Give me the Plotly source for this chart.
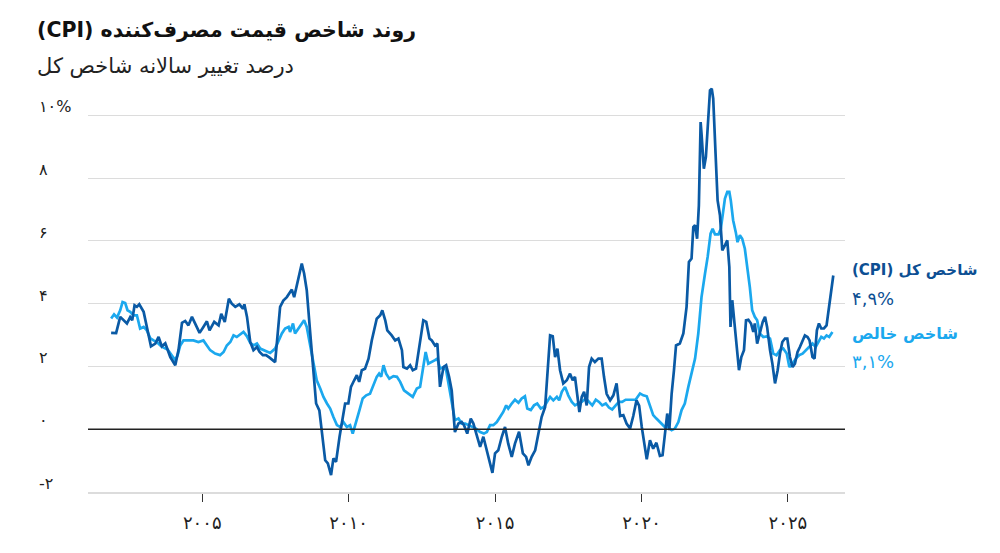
import plotly.graph_objects as go

# Annual % change, headline CPI (dark) and core (light)
cpi_year = [2001.89, 2002.06, 2002.20, 2002.31, 2002.43, 2002.54, 2002.61, 2002.69, 2002.77, 2002.85,
            2002.92, 2003.00, 2003.11, 2003.25, 2003.40, 2003.51, 2003.62, 2003.74, 2003.91, 2004.08,
            2004.19, 2004.31, 2004.42, 2004.53, 2004.65, 2004.76, 2004.91, 2005.04, 2005.16, 2005.25,
            2005.41, 2005.56, 2005.65, 2005.77, 2005.91, 2006.01, 2006.13, 2006.27, 2006.39, 2006.44,
            2006.53, 2006.64, 2006.75, 2006.87, 2006.96, 2007.07, 2007.18, 2007.30, 2007.41, 2007.49,
            2007.66, 2007.77, 2007.89, 2008.06, 2008.14, 2008.29, 2008.40, 2008.48, 2008.57, 2008.69,
            2008.80, 2008.89, 2009.00, 2009.09, 2009.20, 2009.29, 2009.40, 2009.48, 2009.57, 2009.69,
            2009.80, 2009.88, 2009.99, 2010.08, 2010.19, 2010.28, 2010.36, 2010.45, 2010.56, 2010.68,
            2010.79, 2010.96, 2011.08, 2011.15, 2011.25, 2011.32, 2011.47, 2011.59, 2011.70, 2011.82,
            2011.87, 2011.99, 2012.10, 2012.19, 2012.30, 2012.42, 2012.55, 2012.65, 2012.76, 2012.84,
            2012.95, 2013.03, 2013.12, 2013.24, 2013.33, 2013.43, 2013.52, 2013.63, 2013.75, 2013.86,
            2013.94, 2014.05, 2014.17, 2014.26, 2014.38, 2014.49, 2014.60, 2014.72, 2014.83, 2014.91,
            2015.00, 2015.11, 2015.23, 2015.34, 2015.45, 2015.57, 2015.68, 2015.82, 2015.95, 2016.06,
            2016.14, 2016.25, 2016.37, 2016.48, 2016.59, 2016.71, 2016.82, 2016.88, 2016.97, 2017.05,
            2017.13, 2017.22, 2017.33, 2017.45, 2017.56, 2017.65, 2017.73, 2017.79, 2017.88, 2017.96,
            2018.04, 2018.13, 2018.21, 2018.30, 2018.41, 2018.53, 2018.64, 2018.72, 2018.81, 2018.93,
            2019.04, 2019.15, 2019.27, 2019.38, 2019.49, 2019.61, 2019.72, 2019.83, 2019.92, 2020.01,
            2020.09, 2020.18, 2020.29, 2020.40, 2020.51, 2020.63, 2020.72, 2020.80, 2020.88, 2020.95,
            2021.03, 2021.11, 2021.18, 2021.31, 2021.43, 2021.54, 2021.62, 2021.71, 2021.77, 2021.83,
            2021.90, 2021.96, 2022.02, 2022.05, 2022.13, 2022.20, 2022.28, 2022.34, 2022.40, 2022.45,
            2022.53, 2022.60, 2022.68, 2022.76, 2022.85, 2022.93, 2023.00, 2023.04, 2023.10, 2023.16,
            2023.25, 2023.33, 2023.41, 2023.50, 2023.57, 2023.65, 2023.74, 2023.82, 2023.87, 2023.95,
            2024.04, 2024.14, 2024.22, 2024.29, 2024.39, 2024.47, 2024.56, 2024.65, 2024.73, 2024.81,
            2024.90, 2024.98, 2025.07, 2025.16, 2025.24, 2025.33, 2025.41, 2025.50, 2025.58, 2025.67,
            2025.74, 2025.84, 2025.91, 2025.99, 2026.06, 2026.14, 2026.23, 2026.32, 2026.41, 2026.47,
            2026.55]
cpi_val = [3.07, 3.06, 3.58, 3.47, 3.37, 3.57, 3.47, 3.95, 3.90, 3.98,
           3.85, 3.74, 3.26, 2.64, 2.73, 2.94, 2.64, 2.74, 2.30, 2.04,
           2.52, 3.39, 3.45, 3.31, 3.58, 3.37, 3.07, 3.26, 3.44, 3.15,
           3.42, 3.31, 3.68, 3.42, 4.16, 4.00, 3.90, 3.98, 3.84, 3.98,
           3.58, 2.78, 2.52, 2.62, 2.46, 2.36, 2.36, 2.28, 2.20, 2.14,
           3.90, 4.10, 4.21, 4.45, 4.21, 4.85, 5.28, 4.96, 4.43, 3.05,
           1.77, 0.82, 0.60, -0.14, -0.99, -1.09, -1.46, -0.93, -1.04, -0.24,
           0.39, 0.82, 0.82, 1.35, 1.56, 1.72, 1.51, 1.88, 1.93, 2.25,
           2.83, 3.52, 3.63, 3.79, 3.47, 3.15, 2.99, 2.83, 2.89, 2.52,
           1.98, 1.93, 2.04, 1.88, 1.93, 2.62, 3.47, 3.42, 2.89, 2.83,
           2.67, 2.73, 1.35, 1.98, 2.04, 1.67, 1.24, -0.09, 0.18, 0.23,
           0.13, -0.14, 0.34, 0.18, -0.25, -0.56, -0.24, -0.67, -1.09, -1.39,
           -0.77, -0.67, -0.24, 0.07, -0.46, -0.88, -0.46, -0.08, -0.77, -0.88,
           -1.15, -0.88, -0.67, -0.14, 0.39, 0.71, 2.20, 2.99, 2.96, 2.30,
           2.57, 1.88, 1.46, 1.56, 1.77, 1.56, 1.67, 1.13, 0.55, 1.03,
           1.19, 0.76, 1.98, 2.25, 2.14, 2.25, 2.25, 1.67, 1.13, 0.92,
           1.08, 1.46, 0.42, 0.45, 0.18, 0.02, 0.42, 0.92, 0.75, 0.07,
           -0.50, -0.96, -0.35, -0.62, -0.43, -0.85, -0.83, -0.14, 0.50, -0.03,
           1.13, 1.88, 2.67, 2.73, 3.05, 3.90, 5.33, 5.44, 6.44, 6.50,
           6.07, 7.13, 9.79, 9.42, 8.30, 8.68, 10.10, 10.80, 10.85, 10.53,
           8.78, 7.29, 6.82, 5.70, 5.86, 6.02, 5.17, 3.26, 4.11, 3.47,
           2.62, 1.88, 2.30, 2.52, 3.47, 3.49, 3.37, 3.10, 3.37, 2.73,
           3.05, 3.42, 3.58, 3.26, 2.52, 2.09, 1.46, 1.88, 2.41, 2.78,
           2.89, 2.89, 2.30, 1.98, 2.09, 2.46, 2.62, 2.83, 2.99, 2.94,
           2.83, 2.30, 2.25, 3.15, 3.37, 3.21, 3.21, 3.31, 3.90, 4.43,
           4.90]

core_year = [2001.89, 2001.99, 2002.09, 2002.20, 2002.28, 2002.37, 2002.45, 2002.54, 2002.66, 2002.77,
             2002.88, 2003.00, 2003.11, 2003.23, 2003.34, 2003.45, 2003.57, 2003.68, 2003.82, 2003.97,
             2004.08, 2004.16, 2004.25, 2004.36, 2004.53, 2004.70, 2004.87, 2005.04, 2005.16, 2005.27,
             2005.44, 2005.61, 2005.73, 2005.84, 2005.96, 2006.07, 2006.18, 2006.30, 2006.41, 2006.53,
             2006.64, 2006.75, 2006.87, 2006.98, 2007.09, 2007.21, 2007.32, 2007.49, 2007.60, 2007.72,
             2007.83, 2007.95, 2008.00, 2008.10, 2008.17, 2008.29, 2008.40, 2008.48, 2008.57, 2008.69,
             2008.80, 2008.91, 2009.03, 2009.14, 2009.26, 2009.37, 2009.48, 2009.60, 2009.71, 2009.82,
             2009.94, 2010.05, 2010.14, 2010.26, 2010.37, 2010.48, 2010.60, 2010.73, 2010.87, 2010.96,
             2011.04, 2011.11, 2011.19, 2011.28, 2011.39, 2011.53, 2011.65, 2011.76, 2011.89, 2012.04,
             2012.19, 2012.33, 2012.44, 2012.53, 2012.63, 2012.72, 2012.84, 2012.95, 2013.03, 2013.12,
             2013.24, 2013.33, 2013.41, 2013.52, 2013.63, 2013.75, 2013.86, 2013.98, 2014.20, 2014.35,
             2014.49, 2014.62, 2014.72, 2014.83, 2014.94, 2015.06, 2015.17, 2015.28, 2015.38, 2015.45,
             2015.57, 2015.68, 2015.80, 2015.91, 2016.02, 2016.10, 2016.22, 2016.33, 2016.44, 2016.56,
             2016.67, 2016.79, 2016.88, 2016.99, 2017.11, 2017.19, 2017.28, 2017.39, 2017.50, 2017.62,
             2017.73, 2017.84, 2017.96, 2018.10, 2018.21, 2018.32, 2018.44, 2018.55, 2018.66, 2018.78,
             2018.89, 2019.00, 2019.12, 2019.23, 2019.34, 2019.46, 2019.57, 2019.69, 2019.80, 2019.95,
             2020.06, 2020.18, 2020.29, 2020.40, 2020.51, 2020.63, 2020.69, 2020.80, 2020.91, 2021.03,
             2021.14, 2021.26, 2021.37, 2021.48, 2021.60, 2021.71, 2021.83, 2021.94, 2022.05, 2022.17,
             2022.26, 2022.36, 2022.43, 2022.51, 2022.63, 2022.71, 2022.77, 2022.85, 2022.93, 2023.00,
             2023.05, 2023.13, 2023.22, 2023.28, 2023.36, 2023.44, 2023.53, 2023.62, 2023.70, 2023.78,
             2023.87, 2023.95, 2024.04, 2024.16, 2024.27, 2024.39, 2024.50, 2024.61, 2024.73, 2024.84,
             2024.96, 2025.05, 2025.16, 2025.27, 2025.39, 2025.50, 2025.61, 2025.72, 2025.84, 2025.95,
             2026.06, 2026.14, 2026.23, 2026.32, 2026.41, 2026.52]
core_val = [3.53, 3.66, 3.56, 3.79, 4.05, 4.02, 3.79, 3.74, 3.63, 3.63,
            3.21, 3.26, 3.15, 2.89, 2.83, 2.78, 2.67, 2.60, 2.54, 2.36,
            2.20, 2.36, 2.67, 2.83, 2.83, 2.83, 2.78, 2.83, 2.67, 2.52,
            2.41, 2.36, 2.46, 2.67, 2.78, 2.99, 2.94, 3.03, 3.10, 2.96,
            2.75, 2.67, 2.73, 2.57, 2.52, 2.46, 2.43, 2.57, 2.83, 3.05,
            3.21, 3.26, 3.10, 3.37, 3.05, 3.21, 3.37, 3.47, 3.26, 2.62,
            2.09, 1.56, 1.30, 1.03, 0.82, 0.66, 0.39, 0.13, 0.07, 0.23,
            0.07, 0.13, -0.14, 0.29, 0.61, 0.98, 1.08, 1.13, 1.46, 1.67,
            1.77, 1.67, 2.04, 1.77, 1.61, 1.69, 1.67, 1.51, 1.24, 1.13,
            1.03, 1.30, 1.35, 1.88, 2.46, 2.09, 2.14, 2.20, 2.25, 1.93,
            1.98, 1.88, 1.46, 0.82, 0.29, 0.34, 0.18, 0.18, 0.07, 0.02,
            -0.09, -0.14, -0.09, 0.13, 0.13, 0.23, 0.39, 0.55, 0.76, 0.66,
            0.82, 0.94, 0.84, 0.98, 1.05, 0.66, 0.61, 0.76, 0.82, 0.66,
            0.71, 0.92, 1.03, 0.92, 1.03, 0.92, 1.19, 1.35, 1.08, 0.87,
            0.76, 0.82, 0.87, 0.98, 0.87, 0.76, 0.94, 0.87, 0.76, 0.82,
            0.69, 0.63, 0.76, 0.87, 0.87, 0.94, 0.94, 0.94, 0.94, 1.14,
            1.08, 1.05, 0.76, 0.45, 0.34, 0.23, 0.18, 0.07, 0.07, -0.03,
            0.02, 0.23, 0.61, 0.82, 1.35, 1.77, 2.25, 3.05, 4.21, 4.96,
            5.49, 6.23, 6.39, 6.21, 6.21, 6.39, 6.76, 7.35, 7.56, 7.56,
            7.29, 6.66, 6.28, 5.96, 6.18, 6.07, 5.75, 5.17, 4.53, 3.79,
            3.58, 3.47, 3.05, 2.94, 2.96, 2.89, 2.41, 2.36, 2.52, 2.57,
            2.41, 1.98, 2.09, 2.25, 2.36, 2.41, 2.52, 2.62, 2.73, 2.62,
            2.83, 2.94, 2.89, 2.99, 2.94, 3.10]

year_ticks = [2005, 2010, 2015, 2020, 2025]
year_labels = ["۲۰۰۵", "۲۰۱۰", "۲۰۱۵", "۲۰۲۰", "۲۰۲۵"]
pct_ticks = [-2, 0, 2, 4, 6, 8, 10]
pct_labels = ["-۲", "۰", "۲", "۴", "۶", "۸", "۱۰%"]

DARK = "#0a5aa5"
LIGHT = "#1ba8ee"
FONT = "DejaVu Sans"
RLE, PDF = "\u202b", "\u202c"

def fa_num(v):
    s = f"{v:.1f}".replace(".", ",")
    return s.translate(str.maketrans("0123456789", "۰۱۲۳۴۵۶۷۸۹")) + "%"

fig = go.Figure()
fig.add_trace(go.Scatter(x=core_year, y=core_val, mode="lines", name="core",
                         line=dict(color=LIGHT, width=2.7)))
fig.add_trace(go.Scatter(x=cpi_year, y=cpi_val, mode="lines", name="cpi",
                         line=dict(color=DARK, width=2.7)))

fig.add_hline(y=0, line_color="#222222", line_width=1.4)

ann = []
# title + subtitle
ann.append(dict(text=RLE + "<b>روند شاخص قیمت مصرف‌کننده (CPI)</b>" + PDF, xref="paper", yref="paper",
                x=-0.070, y=1.132, xanchor="left", yanchor="middle", showarrow=False,
                font=dict(size=20.5, color="#111111", family=FONT)))
ann.append(dict(text="درصد تغییر سالانه شاخص کل", xref="paper", yref="paper",
                x=-0.070, y=1.044, xanchor="left", yanchor="middle", showarrow=False,
                font=dict(size=21, color="#222222", family=FONT)))
# y tick labels, left aligned above the gridlines
for v, t in zip(pct_ticks, pct_labels):
    ann.append(dict(text=t, xref="paper", yref="y", x=-0.067, y=v, xanchor="left",
                    yanchor="bottom", yshift=-3, showarrow=False,
                    font=dict(size=16, color="#222222", family=FONT)))
# series end labels
ann.append(dict(text=RLE + "<b>شاخص کل (CPI)</b>" + PDF, xref="paper", yref="y", x=1.0066, y=cpi_val[-1],
                xanchor="left", yanchor="middle", yshift=5, showarrow=False,
                font=dict(size=15, color="#0d4f93", family=FONT)))
ann.append(dict(text=fa_num(cpi_val[-1]), xref="paper", yref="y", x=1.0066, y=cpi_val[-1],
                xanchor="left", yanchor="middle", yshift=-23, showarrow=False,
                font=dict(size=18, color="#0d4f93", family=FONT)))
ann.append(dict(text="<b>شاخص خالص</b>", xref="paper", yref="y", x=1.0066, y=core_val[-1],
                xanchor="left", yanchor="middle", yshift=-2, showarrow=False,
                font=dict(size=16, color=LIGHT, family=FONT)))
ann.append(dict(text=fa_num(core_val[-1]), xref="paper", yref="y", x=1.0066, y=core_val[-1],
                xanchor="left", yanchor="middle", yshift=-30, showarrow=False,
                font=dict(size=18, color=LIGHT, family=FONT)))

fig.update_layout(
    width=1000, height=553,
    margin=dict(l=80, r=163, t=76, b=69),
    paper_bgcolor="white", plot_bgcolor="white",
    showlegend=False,
    annotations=ann,
    xaxis=dict(range=[2001.1, 2026.95], tickvals=year_ticks, ticktext=year_labels,
               showgrid=False, zeroline=False, showline=True, linecolor="#dcdcdc", linewidth=1.5,
               ticks="outside", ticklen=8, tickwidth=1.2, tickcolor="#333333",
               ticklabelstandoff=6,
               tickfont=dict(size=18, color="#222222", family=FONT)),
    yaxis=dict(range=[-2, 11], tickvals=pct_ticks, showticklabels=False,
               showgrid=True, gridcolor="#dcdcdc", gridwidth=1, zeroline=False),
)

fig.write_html("out.html")
